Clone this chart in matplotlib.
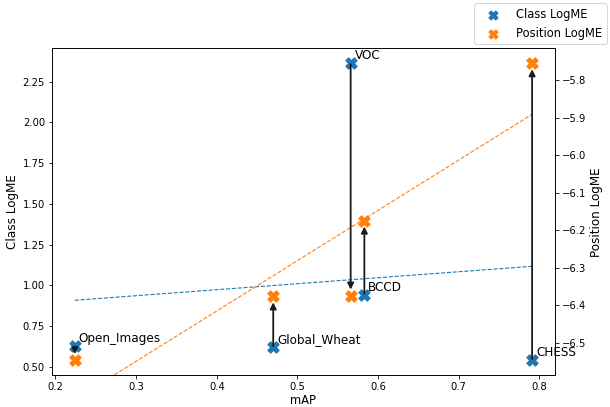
import numpy as np
import matplotlib
matplotlib.use("Agg")
import matplotlib.pyplot as plt

datasets = ["Open_Images", "Global_Wheat", "VOC", "BCCD", "CHESS"]
mAP = [0.224, 0.470, 0.566, 0.583, 0.791]
class_logme = [0.63, 0.62, 2.363, 0.943, 0.54]
position_logme = [-6.546, -6.376, -6.374, -6.174, -5.755]

fig = plt.figure(figsize=(610 / 72, 407 / 72), dpi=72)
ax = fig.add_axes([0.0852, 0.0786, 0.8246, 0.8025])
ax2 = ax.twinx()

s1 = ax.scatter(mAP, class_logme, marker="X", s=130, color="C0", label="Class LogME", zorder=3)
s2 = ax2.scatter(mAP, position_logme, marker="X", s=130, color="C1", label="Position LogME", zorder=3)

ax.set_xlim(ax.get_xlim())
ax.set_ylim(ax.get_ylim())
ax2.set_ylim(ax2.get_ylim())

x = np.array(mAP)
xs = np.array([x.min(), x.max()])
p1 = np.polyfit(x, class_logme, 1)
p2 = np.polyfit(x, position_logme, 1)
ax.plot(xs, np.polyval(p1, xs), "--", color="C0", lw=1.1)
ax2.plot(xs, np.polyval(p2, xs), "--", color="C1", lw=1.1)

for name, xv, c, p in zip(datasets, mAP, class_logme, position_logme):
    ax2.annotate("", xy=(xv, p), xycoords=ax2.transData,
                 xytext=(xv, c), textcoords=ax.transData,
                 arrowprops=dict(arrowstyle="-|>", color="#1a1a1a", lw=1.8,
                                 shrinkA=1, shrinkB=6, mutation_scale=13))
    ax2.annotate(name, xy=(xv, c), xycoords=ax.transData,
                 xytext=(4, 4), textcoords="offset points", fontsize=12)

ax.set_xlabel("mAP", fontsize=11.5, labelpad=1.5)
ax.set_ylabel("Class LogME", fontsize=12)
ax2.set_ylabel("Position LogME", fontsize=12)
ax.tick_params(labelsize=10)
ax2.tick_params(labelsize=10)

fig.legend(handles=[s1, s2], loc="upper right", fontsize=11.5, markerscale=0.8,
           handlelength=2.5, handletextpad=0.7, borderaxespad=0.3)

fig.savefig("out.png", dpi=72)
